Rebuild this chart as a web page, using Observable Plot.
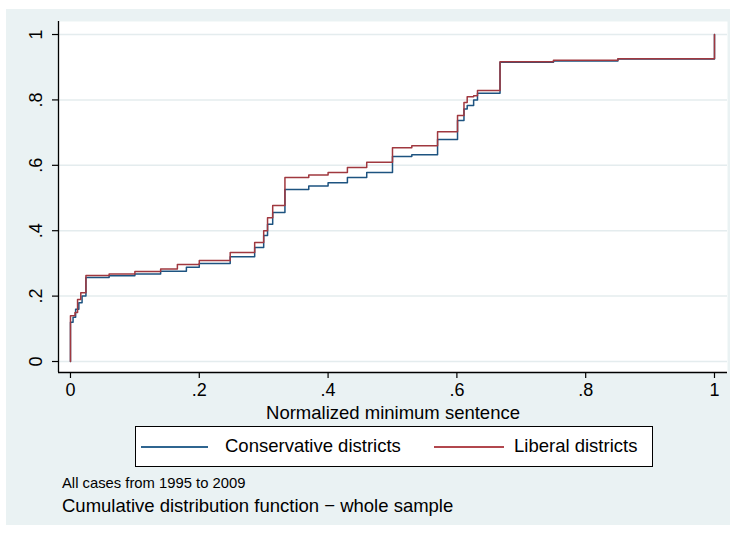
<!DOCTYPE html>
<html>
<head>
<meta charset="utf-8">
<script src="https://cdn.jsdelivr.net/npm/d3@7"></script>
<script src="https://cdn.jsdelivr.net/npm/@observablehq/plot@0.6"></script>
<style>
html, body { margin: 0; padding: 0; background: #fff; }
#wrap { position: relative; width: 730px; height: 534px; overflow: hidden; font-family: "Liberation Sans", Arial, sans-serif; color: #000; }
#bg { position: absolute; left: 6px; top: 9px; width: 724px; height: 516px; background: #eaf2f3; }
#chart { position: absolute; left: 0; top: 0; }
#legend { position: absolute; left: 135px; top: 426px; width: 516px; height: 39px; border: 1px solid #000; background: #fff; }
.sw { position: absolute; top: 19px; height: 1.5px; }
.lt { position: absolute; top: 8px; font-size: 18.5px; line-height: 22px; white-space: nowrap; }
#note { position: absolute; left: 62px; top: 474px; font-size: 14.8px; line-height: 18px; white-space: nowrap; }
#caption { position: absolute; left: 62px; top: 495px; font-size: 18.5px; line-height: 22px; white-space: nowrap; }
</style>
</head>
<body>
<div id="wrap">
  <div id="bg"></div>
  <div id="chart"></div>
  <div id="legend"></div>
  <div id="note"></div>
  <div id="caption"></div>
</div>
<script>
// ---- data ----
const seriesNames = ["Conservative districts", "Liberal districts"];
const seriesColors = ["#1d5380", "#a0383f"];
const legendColors = ["#2f6590", "#b2474e"];

const consX = [0, 0, 0.004, 0.008, 0.013, 0.018, 0.024, 0.06, 0.10, 0.14, 0.18, 0.20, 0.248, 0.286, 0.300, 0.306, 0.314, 0.333, 0.37, 0.40, 0.43, 0.46, 0.50, 0.53, 0.57, 0.601, 0.611, 0.616, 0.626, 0.632, 0.667, 0.75, 0.85, 1.0, 1.0];
const consY = [0, 0.12, 0.135, 0.16, 0.18, 0.20, 0.257, 0.262, 0.268, 0.276, 0.288, 0.30, 0.32, 0.349, 0.385, 0.42, 0.456, 0.526, 0.537, 0.547, 0.563, 0.578, 0.627, 0.632, 0.679, 0.737, 0.772, 0.783, 0.80, 0.82, 0.915, 0.919, 0.925, 0.93, 1.0];

const libX = [0, 0, 0.007, 0.011, 0.016, 0.024, 0.06, 0.10, 0.14, 0.166, 0.20, 0.248, 0.286, 0.300, 0.306, 0.314, 0.333, 0.37, 0.40, 0.43, 0.46, 0.50, 0.53, 0.57, 0.601, 0.611, 0.616, 0.626, 0.632, 0.667, 0.75, 0.85, 1.0, 1.0];
const libY = [0, 0.14, 0.15, 0.19, 0.21, 0.263, 0.268, 0.275, 0.283, 0.297, 0.309, 0.333, 0.364, 0.40, 0.44, 0.477, 0.563, 0.57, 0.578, 0.593, 0.609, 0.654, 0.66, 0.703, 0.752, 0.792, 0.81, 0.813, 0.829, 0.917, 0.921, 0.926, 0.93, 1.0];

const xTicks = [0, 0.2, 0.4, 0.6, 0.8, 1];
const xTickLabels = ["0", ".2", ".4", ".6", ".8", "1"];
const yTicks = [0, 0.2, 0.4, 0.6, 0.8, 1];
const yTickLabels = ["0", ".2", ".4", ".6", ".8", "1"];

const xTitle = "Normalized minimum sentence";
const noteText = "All cases from 1995 to 2009";
const captionText = "Cumulative distribution function \u2212 whole sample";

// scale extents (plot region slightly wider than the data range, Stata style)
const xDomain = [-0.0186, 1.0202];
const yDomain = [-0.0336, 1.0398];

// ---- build ----
const rows = [
  ...consX.map((x, i) => ({x, y: consY[i], s: seriesNames[0]})),
  ...libX.map((x, i) => ({x, y: libY[i], s: seriesNames[1]}))
];

const font = "'Liberation Sans', Arial, sans-serif";

const chart = Plot.plot({
  width: 730,
  height: 425,
  marginLeft: 58,
  marginRight: 3,
  marginTop: 21,
  marginBottom: 53,
  style: {background: "transparent", fontFamily: font, fontSize: "18px", color: "#000", overflow: "visible"},
  x: {domain: xDomain},
  y: {domain: yDomain},
  color: {domain: seriesNames, range: seriesColors},
  marks: [
    Plot.frame({fill: "white", stroke: "none"}),
    Plot.gridY(yTicks, {stroke: "#e4ecee", strokeOpacity: 1, strokeWidth: 1.5}),
    Plot.line(rows, {x: "x", y: "y", z: "s", stroke: "s", curve: "step-after", strokeWidth: 1.5}),
    Plot.ruleX([xDomain[0]], {stroke: "#000", strokeWidth: 1.3}),
    Plot.ruleY([yDomain[0]], {stroke: "#000", strokeWidth: 1.3}),
    Plot.axisX(xTicks, {
      tickSize: 6, tickPadding: 5, strokeWidth: 1.2, label: null, fontSize: 18,
      tickFormat: d => xTickLabels[xTicks.indexOf(d)]
    }),
    Plot.axisY(yTicks, {
      tickSize: 6, tickPadding: 11, strokeWidth: 1.2, label: null, fontSize: 18, tickRotate: -90,
      tickFormat: d => yTickLabels[yTicks.indexOf(d)]
    }),
    Plot.text([xTitle], {frameAnchor: "bottom", lineAnchor: "middle", dy: 41, fontSize: 18.5, fill: "#000"})
  ]
});
document.getElementById("chart").appendChild(chart);

// legend
const legend = document.getElementById("legend");
const legendItems = [
  {sx: 5, sw: 67, tx: 89},
  {sx: 298, sw: 70, tx: 378}
];
seriesNames.forEach((name, i) => {
  const sw = document.createElement("div");
  sw.className = "sw";
  sw.style.left = legendItems[i].sx + "px";
  sw.style.width = legendItems[i].sw + "px";
  sw.style.background = legendColors[i];
  legend.appendChild(sw);
  const t = document.createElement("div");
  t.className = "lt";
  t.style.left = legendItems[i].tx + "px";
  t.textContent = name;
  legend.appendChild(t);
});
document.getElementById("note").textContent = noteText;
document.getElementById("caption").textContent = captionText;
</script>
</body>
</html>
